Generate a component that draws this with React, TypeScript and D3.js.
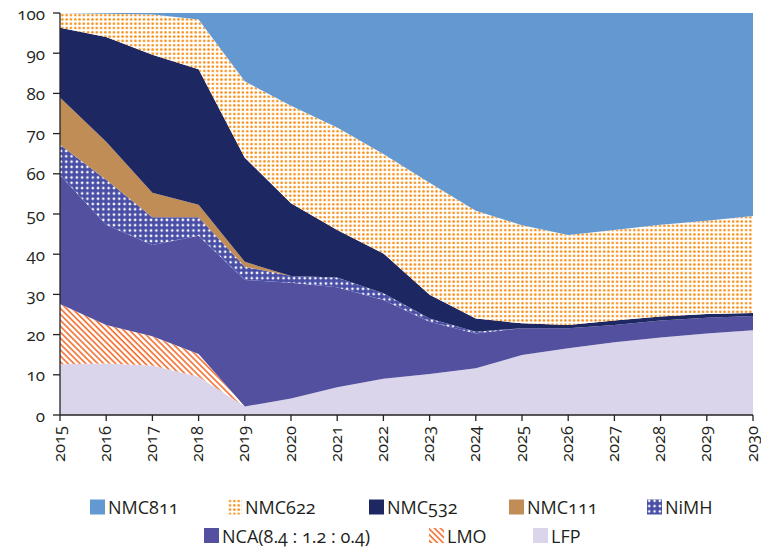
import React from 'react';
import * as d3 from 'd3';

const years = [2015, 2016, 2017, 2018, 2019, 2020, 2021, 2022, 2023, 2024, 2025, 2026, 2027, 2028, 2029, 2030];
const LFP = [12.6, 12.8, 12.3, 9.5, 2.1, 4.1, 6.9, 9.0, 10.2, 11.6, 14.9, 16.6, 18.1, 19.3, 20.3, 21.1];
const LMO = [15.0, 9.6, 7.3, 5.7, 0, 0, 0, 0, 0, 0, 0, 0, 0, 0, 0, 0];
const NCA = [32.1, 24.9, 22.7, 29.4, 31.5, 28.8, 24.9, 19.6, 13.0, 8.7, 6.7, 5.0, 4.3, 4.2, 3.9, 3.5];
const NiMH = [7.5, 11.2, 6.9, 4.6, 3.3, 1.7, 2.4, 1.7, 0.8, 0.4, 0, 0, 0, 0, 0, 0];
const NMC111 = [11.8, 9.5, 6.1, 3.1, 1.2, 0, 0, 0, 0, 0, 0, 0, 0, 0, 0, 0];
const NMC532 = [17.3, 26.0, 34.3, 33.7, 25.9, 18.1, 11.8, 9.9, 5.9, 3.3, 1.2, 0.8, 1.1, 1.0, 0.9, 0.8];
const NMC622 = [3.7, 5.8, 10.0, 12.4, 19.0, 24.2, 25.5, 24.7, 27.9, 26.8, 24.4, 22.4, 22.5, 22.8, 23.2, 24.1];
const NMC811 = [0, 0.2, 0.4, 1.6, 17.0, 23.1, 28.5, 35.1, 42.2, 49.2, 52.8, 55.2, 54.0, 52.7, 51.7, 50.5];

const seriesKeys = ['LFP', 'LMO', 'NCA', 'NiMH', 'NMC111', 'NMC532', 'NMC622', 'NMC811'];
const seriesValues = [LFP, LMO, NCA, NiMH, NMC111, NMC532, NMC622, NMC811];
const yTicks = [0, 10, 20, 30, 40, 50, 60, 70, 80, 90, 100];

const legendRow1 = ['NMC811', 'NMC622', 'NMC532', 'NMC111', 'NiMH'];
const legendRow2 = ['NCA', 'LMO', 'LFP'];
const legendText: Record<string, string> = {
  NMC811: 'NMC811', NMC622: 'NMC622', NMC532: 'NMC532', NMC111: 'NMC111', NiMH: 'NiMH',
  NCA: 'NCA(8.4 : 1.2 : 0.4)', LMO: 'LMO', LFP: 'LFP',
};

const fills: Record<string, string> = {
  LFP: '#DAD5EA',
  LMO: 'url(#pLMO)',
  NCA: '#5450A0',
  NiMH: 'url(#pNiMH)',
  NMC111: '#C08D57',
  NMC532: '#1D2862',
  NMC622: 'url(#pNMC622)',
  NMC811: '#6399D0',
};

const FONT = '"Open Sans", Lato, sans-serif';

export default function App() {
  const W = 761, H = 551;
  const x = d3.scaleLinear().domain([2015, 2030]).range([60, 753]);
  const y = d3.scaleLinear().domain([0, 100]).range([415, 13]);

  const table = years.map((yr, i) => {
    const row: any = { year: yr };
    seriesKeys.forEach((k, j) => (row[k] = seriesValues[j][i]));
    return row;
  });
  const stacked = d3.stack<any>().keys(seriesKeys)(table);
  const area = d3
    .area<any>()
    .x((d) => x(d.data.year))
    .y0((d) => y(d[0]))
    .y1((d) => y(d[1]));

  const row1X = [90, 227, 369, 509, 647];
  const row2X = [204, 429, 533];
  const textColor = '#231F20';

  const legendItem = (key: string, lx: number, ly: number) => (
    <g key={key}>
      <rect x={lx} y={ly - 7.5} width={15} height={15} fill={fills[key]} />
      <text
        x={lx + 18}
        y={ly}
        dominantBaseline="central"
        fontSize={18}
        fill={textColor}
        style={{ fontVariantNumeric: 'oldstyle-nums' }}
      >
        {legendText[key]}
      </text>
    </g>
  );

  return (
    <svg
      width={W}
      height={H}
      style={{ position: 'absolute', left: 0, top: 0, background: '#fff', fontFamily: FONT }}
    >
      <defs>
        <pattern id="pNMC622" patternUnits="userSpaceOnUse" width={4.3} height={4.3}>
          <rect width={4.3} height={4.3} fill="#fff" />
          <circle cx={2.15} cy={2.15} r={1.3} fill="#F7901A" />
        </pattern>
        <pattern id="pNiMH" patternUnits="userSpaceOnUse" width={5.3} height={5.3}>
          <rect width={5.3} height={5.3} fill="#4A4FA6" />
          <circle cx={2.65} cy={2.65} r={1.3} fill="#fff" />
        </pattern>
        <pattern id="pLMO" patternUnits="userSpaceOnUse" width={4.2} height={4.2} patternTransform="rotate(-45)">
          <rect width={4.2} height={4.2} fill="#fff" />
          <line x1={1} y1={0} x2={1} y2={4.2} stroke="#F26A2A" strokeWidth={1.6} />
        </pattern>
      </defs>

      {stacked.map((s) => (
        <path key={s.key} d={area(s as any) || ''} fill={fills[s.key]} />
      ))}

      {/* y axis */}
      <line x1={60} y1={y(100)} x2={60} y2={y(0)} stroke="#222" strokeWidth={1.3} />
      {yTicks.map((t) => (
        <g key={t}>
          <line x1={53} x2={60} y1={y(t)} y2={y(t)} stroke="#222" strokeWidth={1.3} />
          <text
            x={45}
            y={y(t)}
            textAnchor="end"
            dominantBaseline="central"
            fontSize={17}
            fill={textColor}
            style={{ fontVariantNumeric: 'oldstyle-nums' }}
          >
            {t}
          </text>
        </g>
      ))}

      {/* x axis */}
      <line x1={60} y1={y(0)} x2={753} y2={y(0)} stroke="#222" strokeWidth={1.3} />
      {years.map((yr) => (
        <g key={yr}>
          <line x1={x(yr)} x2={x(yr)} y1={415} y2={421} stroke="#222" strokeWidth={1.3} />
          <text
            transform={`translate(${x(yr) + 4.5},426) rotate(-90)`}
            textAnchor="end"
            fontSize={16.5}
            fill={textColor}
            style={{ fontVariantNumeric: 'oldstyle-nums' }}
          >
            {yr}
          </text>
        </g>
      ))}

      {legendRow1.map((k, i) => legendItem(k, row1X[i], 507))}
      {legendRow2.map((k, i) => legendItem(k, row2X[i], 535.5))}
    </svg>
  );
}
